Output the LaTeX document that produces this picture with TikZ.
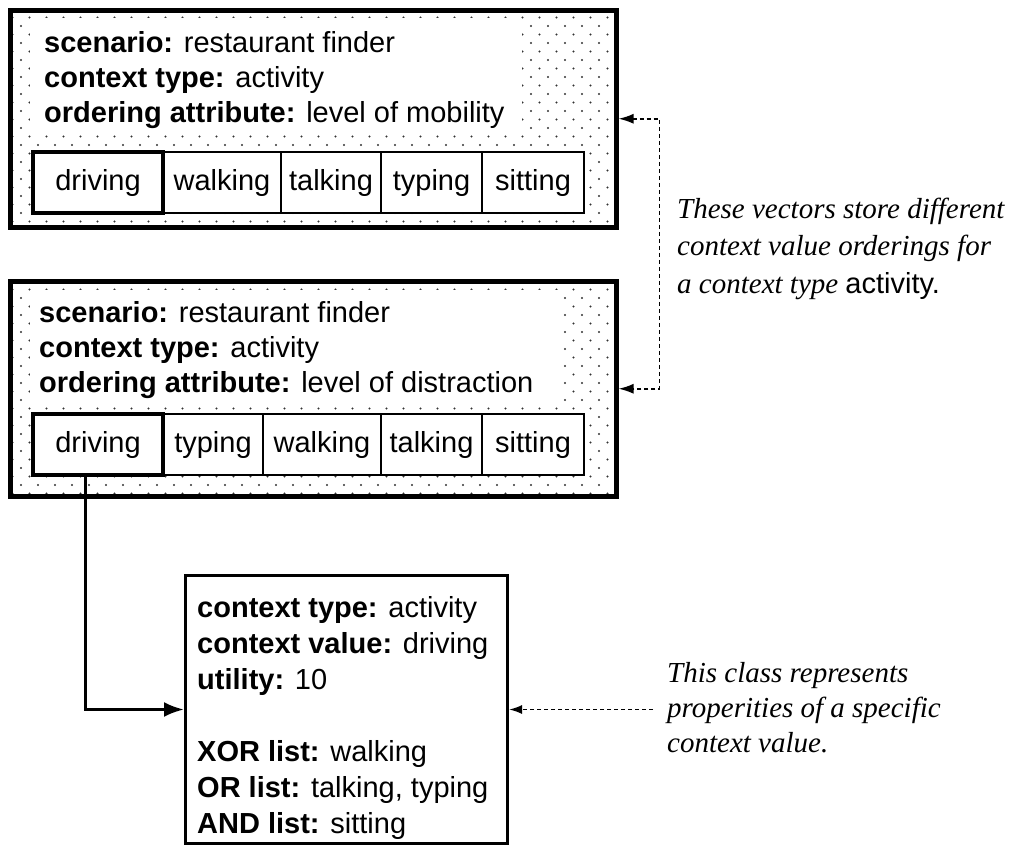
\documentclass[tikz,border=0pt]{standalone}
\usepackage{fontspec}
\setmainfont{Liberation Serif}
\setsansfont{Liberation Sans}
\usetikzlibrary{arrows.meta,patterns,calc}

% staggered grey dots used as the background of the vector boxes
\pgfdeclarepatternformonly{stagdots}{\pgfqpoint{-1pt}{-1pt}}{\pgfqpoint{18pt}{18pt}}{\pgfqpoint{17pt}{17pt}}{%
  \pgfpathcircle{\pgfqpoint{4pt}{4pt}}{1.1pt}%
  \pgfpathcircle{\pgfqpoint{12.5pt}{12.5pt}}{1.1pt}%
  \pgfusepath{fill}}

\tikzset{
  sansbig/.style={font=\sffamily\fontsize{29}{35}\selectfont},
  lbl/.style={sansbig, anchor=base west, inner sep=0pt},
  note/.style={anchor=base west, inner sep=0pt, font=\rmfamily\itshape\fontsize{29}{37}\selectfont},
  vecbox/.style={draw, line width=4.5pt, pattern=stagdots, pattern color=black!80,
    inner sep=0pt, anchor=north west},
  blank/.style={fill=white, inner sep=0pt, outer sep=0pt, anchor=north west},
  cell/.style={sansbig, draw, line width=1.5pt, fill=white, inner sep=0pt, outer sep=0pt,
    anchor=north west, minimum height=61pt, text height=21pt, text depth=6pt},
  keycell/.style={cell, line width=4.5pt},
  clsbox/.style={draw, line width=3pt, fill=white, inner sep=0pt, anchor=north west},
  conn/.style={line width=3pt, -{Latex[length=20pt,width=15pt]}},
  dashconn/.style={line width=1.8pt, dash pattern=on 4pt off 3pt,
    {Latex[length=15pt,width=10pt]}-{Latex[length=15pt,width=10pt]}},
  dashone/.style={line width=1.8pt, dash pattern=on 4pt off 3pt,
    -{Latex[length=13pt,width=9pt]}},
}

\begin{document}
\begin{tikzpicture}[x=1pt,y=-1pt]
\useasboundingbox (0,0) rectangle (1016,846);

% ---------- first vector: level of mobility ----------
\node[vecbox, minimum width=606pt, minimum height=217pt] (v1) at (8,8) {};
\node[blank, minimum width=492pt, minimum height=115pt] (w1) at (30,18) {};
\node[lbl] (s1) at (44,52)  {\textbf{scenario:} restaurant finder};
\node[lbl] (t1) at (44,87)  {\textbf{context type:} activity};
\node[lbl] (o1) at (44,122) {\textbf{ordering attribute:} level of mobility};
\node[cell, minimum width=118pt] (a1) at (163,152) {walking};
\node[cell, minimum width=100pt] (b1) at (281,152) {talking};
\node[cell, minimum width=101pt] (c1) at (381,152) {typing};
\node[cell, minimum width=102pt] (e1) at (482,152) {sitting};
\node[keycell, minimum width=130pt] (d1) at (33,152) {driving};

% ---------- second vector: level of distraction ----------
\node[vecbox, minimum width=606pt, minimum height=215pt] (v2) at (8,279) {};
\node[blank, minimum width=529pt, minimum height=112pt] (w2) at (30,290) {};
\node[lbl] (s2) at (39,322) {\textbf{scenario:} restaurant finder};
\node[lbl] (t2) at (39,357) {\textbf{context type:} activity};
\node[lbl] (o2) at (39,392) {\textbf{ordering attribute:} level of distraction};
\node[cell, minimum width=100pt] (a2) at (163,414) {typing};
\node[cell, minimum width=118pt] (b2) at (263,414) {walking};
\node[cell, minimum width=101pt] (c2) at (381,414) {talking};
\node[cell, minimum width=102pt] (e2) at (482,414) {sitting};
\node[keycell, minimum width=130pt] (d2) at (33,414) {driving};

% ---------- context value class ----------
\node[clsbox, minimum width=322pt, minimum height=268pt] (cls) at (184,574) {};
\node[lbl] (k1) at (197,617) {\textbf{context type:} activity};
\node[lbl] (k2) at (197,653) {\textbf{context value:} driving};
\node[lbl] (k3) at (197,689) {\textbf{utility:} 10};
\node[lbl] (k4) at (197,761) {\textbf{XOR list:} walking};
\node[lbl] (k5) at (197,797) {\textbf{OR list:} talking, typing};
\node[lbl] (k6) at (197,833) {\textbf{AND list:} sitting};

% ---------- annotations ----------
\node[note] (n1) at (677,218)   {These vectors store different};
\node[note] (n2) at (677,255.5) {context value orderings for};
\node[note] (n3) at (677,293)   {a context type \upshape\sffamily activity.};
\node[note] (m1) at (667,682) {This class represents};
\node[note] (m2) at (667,717) {properities of a specific};
\node[note] (m3) at (667,752) {context value.};
\coordinate (mref) at (653,0);

% ---------- connectors ----------
\draw[conn] ([xshift=-13pt]d2.south) |- (cls.west);
\draw[dashconn] (v1.east) -- ++(41,0) |- (v2.east);
\draw[dashone] (mref |- cls.east) -- (cls.east);
\end{tikzpicture}
\end{document}
